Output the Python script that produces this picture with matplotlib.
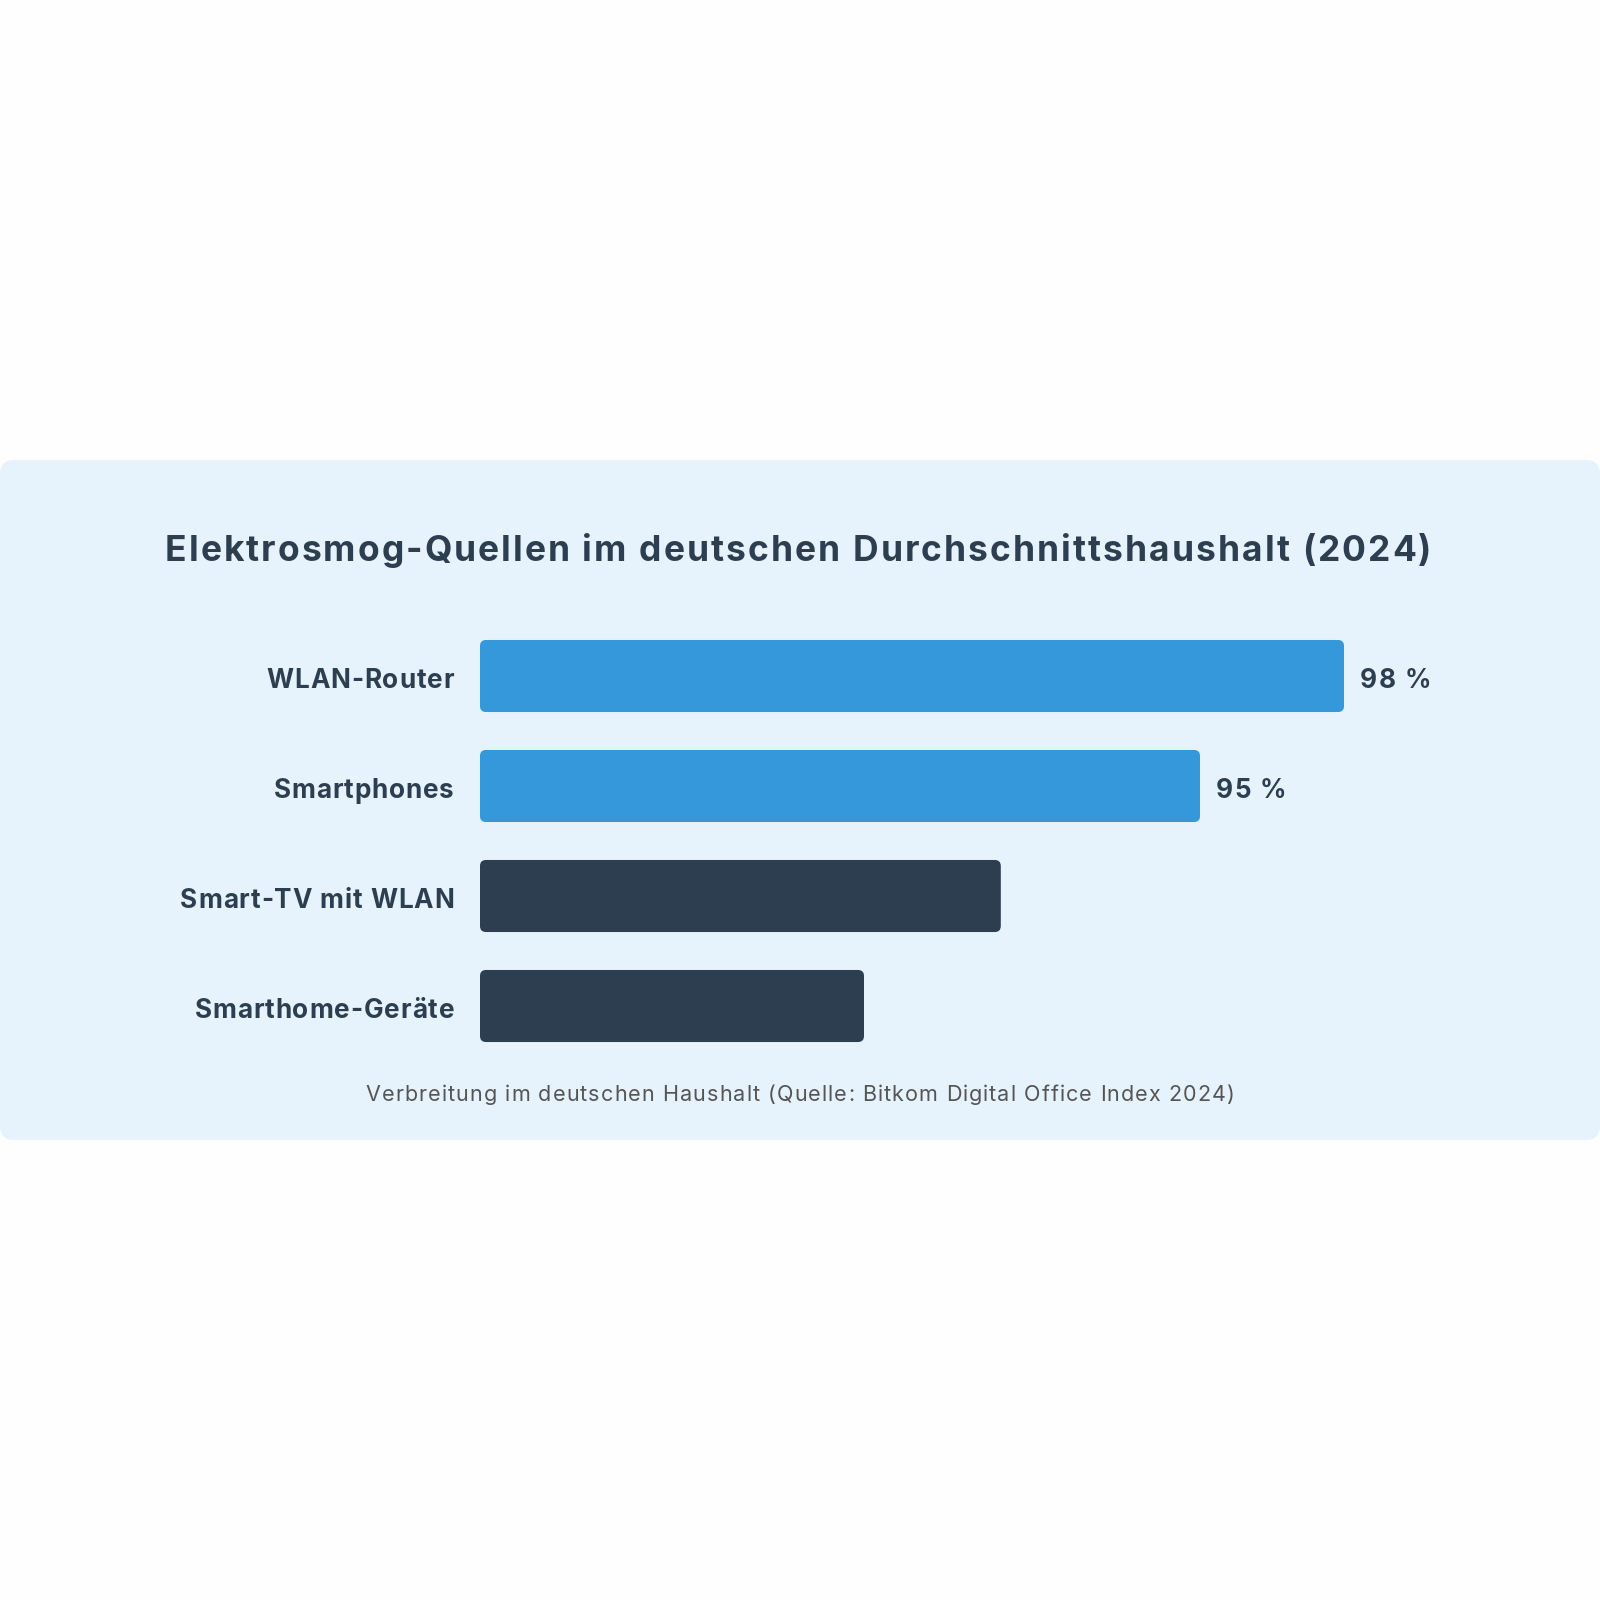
import matplotlib
matplotlib.use("Agg")
import matplotlib.pyplot as plt
from matplotlib.patches import FancyBboxPatch
from matplotlib.font_manager import FontProperties
import numpy as np

# ---- data ----
categories = ["WLAN-Router", "Smartphones", "Smart-TV mit WLAN", "Smarthome-Geräte"]
values = [98, 95, 90.85, 88]
value_labels = ["98 %", "95 %", "", ""]
bar_colors = ["#3498db", "#3498db", "#2c3e50", "#2c3e50"]
title = "Elektrosmog-Quellen im deutschen Durchschnittshaushalt (2024)"
footnote = "Verbreitung im deutschen Haushalt (Quelle: Bitkom Digital Office Index 2024)"
x_min, x_max = 80, 100

plt.rcParams['font.family'] = ['Inter', 'DejaVu Sans']

W = H = 1600
fig = plt.figure(figsize=(16, 16), dpi=100)
fig.patch.set_facecolor("#fefefe")
renderer = fig.canvas.get_renderer()


def fy(py):
    return 1 - py / H


def adv(s, prop):
    w1, _, _ = renderer.get_text_width_height_descent(s + "|", prop, ismath=False)
    w0, _, _ = renderer.get_text_width_height_descent("|", prop, ismath=False)
    return w1 - w0


def spaced_text(x_px, y_px, s, ha, size, weight, color, track):
    """Draw text with letter spacing; x_px/y_px in pixels from top-left, y is baseline."""
    prop = FontProperties(family=['Inter', 'DejaVu Sans'], size=size, weight=weight)
    total = adv(s, prop) + track * (len(s) - 1)
    if ha == "center":
        x0 = x_px - total / 2
    elif ha == "right":
        x0 = x_px - total
    else:
        x0 = x_px
    for i, ch in enumerate(s):
        if ch == " ":
            continue
        x = x0 + adv(s[:i], prop) + track * i
        fig.text(x / W, fy(y_px), ch, ha="left", va="baseline",
                 fontproperties=prop, color=color)


# card background
card = FancyBboxPatch((0, fy(1140)), 1.0, (1140 - 460) / H,
                      boxstyle="round,pad=0,rounding_size=0.009",
                      transform=fig.transFigure, facecolor="#e6f3fc",
                      edgecolor="none", zorder=-10)
fig.patches.append(card)

# axes
ax_left, ax_right = 480, 1440
ax_top, ax_bot = 621, 1061
ax = fig.add_axes([ax_left / W, fy(ax_bot), (ax_right - ax_left) / W, (ax_bot - ax_top) / H])
ax.set_facecolor("none")
ax.set_xlim(x_min, x_max)
ypos = np.arange(len(categories))
ax.set_ylim(len(categories) - 0.5, -0.5)

bar_h = 0.655
bars = ax.barh(ypos, np.array(values) - x_min, left=x_min, height=bar_h,
               color=bar_colors)

# replace bars with rounded versions
px_per_x = (ax_right - ax_left) / (x_max - x_min)
px_per_y = (ax_bot - ax_top) / len(categories)
r_px = 6
for b, c in zip(bars, bar_colors):
    x0, y0 = b.get_x(), b.get_y()
    w, h = b.get_width(), b.get_height()
    b.set_visible(False)
    p = FancyBboxPatch((x0, y0), w, h,
                       boxstyle=f"round,pad=0,rounding_size={r_px / px_per_x}",
                       mutation_aspect=px_per_x / px_per_y,
                       facecolor=c, edgecolor="none", zorder=2)
    ax.add_patch(p)

ax.set_xticks([])
ax.set_yticks([])
for s in ax.spines.values():
    s.set_visible(False)

# category labels and value labels (positions from the data transform)
for yv, v, cat, lab in zip(ypos, values, categories, value_labels):
    x_start_disp, y_disp = ax.transData.transform((x_min, yv))
    x_end_disp, _ = ax.transData.transform((v, yv))
    y_px = H - y_disp + 12
    spaced_text(x_start_disp - 26, y_px, cat, "right", 18.8, "bold", "#2c3e50", 0.9)
    if lab:
        spaced_text(x_end_disp + 16, y_px, lab, "left", 18.8, "bold", "#2c3e50", 1.4)

spaced_text(798, 560.7, title, "center", 25.5, "bold", "#2c3e50", 2.05)
spaced_text(800, 1100.7, footnote, "center", 15.5, "normal", "#555555", 1.08)

fig.savefig("out.png", dpi=100, facecolor=fig.get_facecolor())
